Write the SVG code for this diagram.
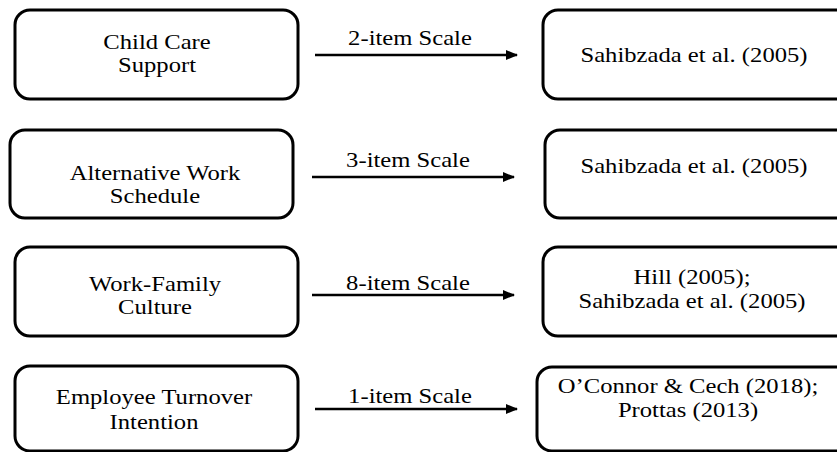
<svg xmlns="http://www.w3.org/2000/svg" width="837" height="452" viewBox="0 0 837 452" font-family="'Liberation Serif', 'Times New Roman', serif">
<style>
.box{fill:#fff;stroke:#000;stroke-width:3}
.t{font-family:'Liberation Serif','Times New Roman',serif;font-size:22px;fill:#000;text-anchor:middle}
.conn{stroke:#000;stroke-width:2.5;fill:none}
</style>
<defs>
<marker id="ah" markerUnits="userSpaceOnUse" markerWidth="12" markerHeight="10" refX="11" refY="5" orient="auto">
<path d="M0,0 L12,5 L0,10 z" fill="#000"/>
</marker>
</defs>
<rect width="837" height="452" fill="#fff"/>
<g id="n1">
<rect class="box" x="15" y="10" width="283" height="89" rx="15"/>
<text class="t" font-family="Liberation Serif" transform="translate(157,49) scale(1.12,1)">Child Care</text>
<text class="t" font-family="Liberation Serif" transform="translate(157,72) scale(1.12,1)">Support</text>
</g>
<g id="r1">
<rect class="box" x="543" y="10" width="320" height="89" rx="15"/>
<text class="t" font-family="Liberation Serif" transform="translate(694,62) scale(1.12,1)">Sahibzada et al. (2005)</text>
</g>
<g id="n2">
<rect class="box" x="10" y="130" width="283" height="88" rx="15"/>
<text class="t" font-family="Liberation Serif" transform="translate(155,180) scale(1.12,1)">Alternative Work</text>
<text class="t" font-family="Liberation Serif" transform="translate(155,203) scale(1.12,1)">Schedule</text>
</g>
<g id="r2">
<rect class="box" x="545" y="130" width="320" height="88" rx="15"/>
<text class="t" font-family="Liberation Serif" transform="translate(694,173) scale(1.12,1)">Sahibzada et al. (2005)</text>
</g>
<g id="n3">
<rect class="box" x="15" y="247" width="283" height="89" rx="15"/>
<text class="t" font-family="Liberation Serif" transform="translate(155,291) scale(1.12,1)">Work-Family</text>
<text class="t" font-family="Liberation Serif" transform="translate(155,314) scale(1.12,1)">Culture</text>
</g>
<g id="r3">
<rect class="box" x="543" y="247" width="320" height="89" rx="15"/>
<text class="t" font-family="Liberation Serif" transform="translate(692,284) scale(1.12,1)">Hill (2005);</text>
<text class="t" font-family="Liberation Serif" transform="translate(692,308) scale(1.12,1)">Sahibzada et al. (2005)</text>
</g>
<g id="n4">
<rect class="box" x="15" y="366" width="283" height="85" rx="15"/>
<text class="t" font-family="Liberation Serif" transform="translate(154,404) scale(1.12,1)">Employee Turnover</text>
<text class="t" font-family="Liberation Serif" transform="translate(154,429) scale(1.12,1)">Intention</text>
</g>
<g id="r4">
<rect class="box" x="537" y="367" width="320" height="84" rx="15"/>
<text class="t" font-family="Liberation Serif" transform="translate(688,393) scale(1.12,1)">O’Connor &amp; Cech (2018);</text>
<text class="t" font-family="Liberation Serif" transform="translate(688,417) scale(1.12,1)">Prottas (2013)</text>
</g>
<g id="connectors">
<line class="conn" x1="315" y1="55" x2="517" y2="55" marker-end="url(#ah)"/>
<text class="t" font-family="Liberation Serif" transform="translate(410,45) scale(1.12,1)">2-item Scale</text>
<line class="conn" x1="312" y1="177" x2="514" y2="177" marker-end="url(#ah)"/>
<text class="t" font-family="Liberation Serif" transform="translate(408,167) scale(1.12,1)">3-item Scale</text>
<line class="conn" x1="312" y1="295" x2="514" y2="295" marker-end="url(#ah)"/>
<text class="t" font-family="Liberation Serif" transform="translate(408,290) scale(1.12,1)">8-item Scale</text>
<line class="conn" x1="315" y1="409" x2="517" y2="409" marker-end="url(#ah)"/>
<text class="t" font-family="Liberation Serif" transform="translate(410,403) scale(1.12,1)">1-item Scale</text>
</g>
</svg>
